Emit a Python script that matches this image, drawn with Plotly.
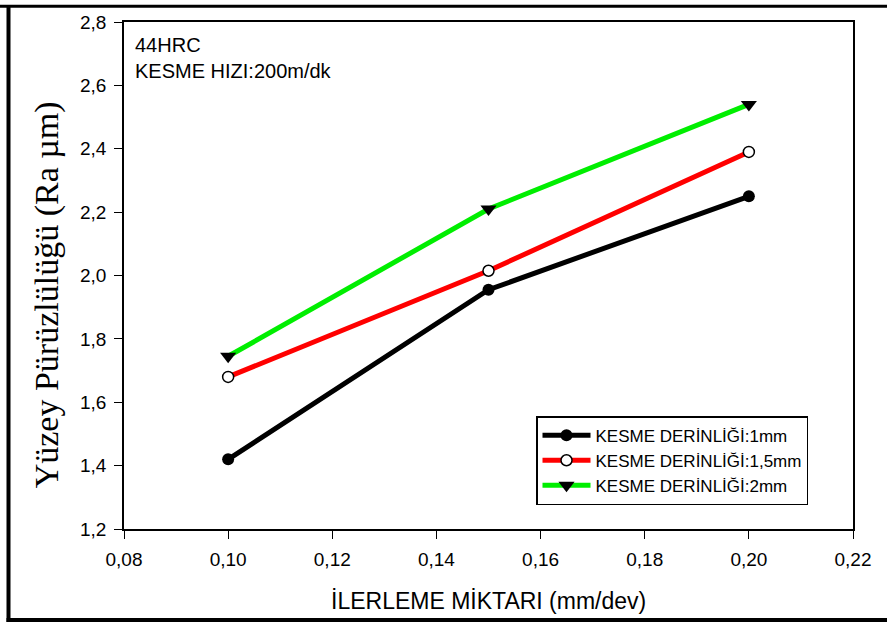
import plotly.graph_objects as go

feed = [0.10, 0.15, 0.20]
ra_1mm = [1.42, 1.955, 2.25]
ra_15mm = [1.68, 2.015, 2.39]
ra_2mm = [1.745, 2.21, 2.54]
names = ["KESME DERİNLİĞİ:1mm", "KESME DERİNLİĞİ:1,5mm", "KESME DERİNLİĞİ:2mm"]

fig = go.Figure()
fig.add_trace(go.Scatter(x=feed, y=ra_1mm, name=names[0], mode="lines+markers",
                         line=dict(color="black", width=5),
                         marker=dict(symbol="circle", size=12, color="black")))
fig.add_trace(go.Scatter(x=feed, y=ra_15mm, name=names[1], mode="lines+markers",
                         line=dict(color="#ff0000", width=5),
                         marker=dict(symbol="circle", size=11, color="white",
                                     line=dict(color="black", width=1.5))))
fig.add_trace(go.Scatter(x=feed, y=ra_2mm, name=names[2], mode="lines+markers",
                         line=dict(color="#00ee00", width=5),
                         marker=dict(symbol="triangle-down", size=14, color="black")))

W, H = 887, 628
L, R, T, B = 124, 853, 17, 529
pw, ph = R - L, B - T

def px(x):
    return (x - L) / pw

def py(y):
    return (B - y) / ph

font = "Arial, Liberation Sans, sans-serif"

fig.update_layout(
    width=W, height=H,
    margin=dict(l=L, r=W - R, t=T, b=H - B),
    paper_bgcolor="white", plot_bgcolor="white",
    separators=",.",
    showlegend=True,
    font=dict(family=font, color="black", size=19),
    xaxis=dict(range=[0.08, 0.22], dtick=0.02, tick0=0.08, tickformat=".2f",
               showgrid=False, zeroline=False, showline=True, linecolor="black",
               linewidth=1.5, mirror=True, ticks="outside", ticklen=8,
               tickwidth=1.2, tickcolor="black", ticklabelstandoff=4,
               tickfont=dict(family=font, size=19, color="black")),
    yaxis=dict(range=[1.2, 2.8], dtick=0.2, tick0=1.2, tickformat=".1f",
               showgrid=False, zeroline=False, showline=True, linecolor="black",
               linewidth=1.5, mirror=True, ticks="outside", ticklen=8,
               tickwidth=1.2, tickcolor="black", ticklabelstandoff=4,
               tickfont=dict(family=font, size=19, color="black")),
    legend=dict(x=px(536), y=py(415), xanchor="left", yanchor="top",
                bordercolor="black", borderwidth=1.5, bgcolor="white",
                font=dict(family=font, size=17, color="black"),
                tracegroupgap=0, itemwidth=48),
    annotations=[
        dict(text="44HRC", x=px(133), y=py(40), xref="paper", yref="paper",
             xanchor="left", yanchor="middle", showarrow=False,
             font=dict(family=font, size=20)),
        dict(text="KESME HIZI:200m/dk", x=px(133), y=py(66), xref="paper", yref="paper",
             xanchor="left", yanchor="middle", showarrow=False,
             font=dict(family=font, size=20)),
        dict(text="İLERLEME MİKTARI (mm/dev)", x=px(488), y=py(602), xref="paper",
             yref="paper", xanchor="center", yanchor="middle", showarrow=False,
             font=dict(family=font, size=23)),
        dict(text="Yüzey Pürüzlülüğü (Ra µm)", x=px(47), y=py(293), xref="paper",
             yref="paper", xanchor="center", yanchor="middle", showarrow=False,
             textangle=-90,
             font=dict(family="Times New Roman, Liberation Serif, serif", size=34)),
    ],
    shapes=[
        dict(type="line", xref="paper", yref="paper", x0=px(0), x1=px(887),
             y0=py(1), y1=py(1), line=dict(color="black", width=3)),
        dict(type="line", xref="paper", yref="paper", x0=px(8.5), x1=px(8.5),
             y0=py(0), y1=py(623), line=dict(color="black", width=4)),
        dict(type="line", xref="paper", yref="paper", x0=px(6.5), x1=px(887),
             y0=py(621), y1=py(621), line=dict(color="black", width=4)),
    ],
)

fig.write_html("out.html")
